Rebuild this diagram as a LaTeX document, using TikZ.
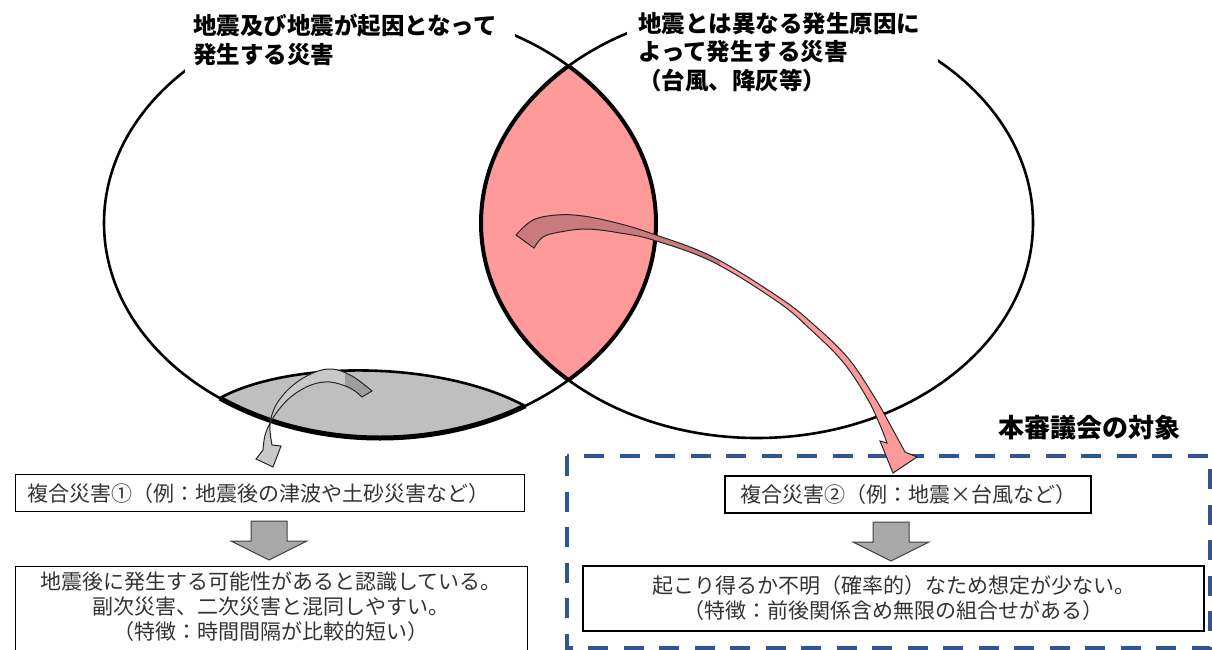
\documentclass[tikz,border=0pt]{standalone}
\usepackage{fontspec}
\setmainfont{Noto Sans CJK JP}
\usetikzlibrary{calc}
\definecolor{pinkc}{HTML}{FF9A9A}
\definecolor{pinkdark}{HTML}{C97A7A}
\definecolor{lensgray}{HTML}{BFBFBF}
\definecolor{arrgray}{HTML}{C9C9C9}
\definecolor{arrgraydark}{HTML}{9E9E9E}
\definecolor{blkgray}{HTML}{A9A9A9}
\definecolor{dashblue}{HTML}{2F5597}
\definecolor{txt}{HTML}{333333}
\begin{document}
\begin{tikzpicture}[x=1pt,y=-1pt,
  venn/.style={line width=2.6pt},
  titletext/.style={font=\fontsize{23.5}{28.5}\selectfont\bfseries, align=left, fill=white, anchor=north west, inner ysep=9pt},
  boxnode/.style={draw=black, line width=1.3pt, fill=white, font=\fontsize{21}{25}\selectfont, text=txt},
  boxtext/.style={font=\fontsize{21}{25}\selectfont, text=txt, align=center},
  blk/.style={fill=blkgray, draw=black!75, line width=1pt},
  curvarrow/.style={draw=black!85, line width=1pt},
]
\useasboundingbox (0,0) rectangle (1212,650);
\def\ellL{(380,223) ellipse [x radius=276, y radius=215]}
\def\ellR{(757,223) ellipse [x radius=276, y radius=215]}
\def\grayTop{(220,398) .. controls (290,360) and (440,360) .. (525,406)}
% lenses
\begin{scope}\clip \ellL; \fill[pinkc] \ellR; \end{scope}
\begin{scope}\clip \ellL; \fill[lensgray] \grayTop -- (560,460) -- (190,460) -- cycle; \end{scope}
\draw[venn] \ellL;
\draw[venn] \ellR;
\begin{scope}\clip \ellL; \draw[line width=4pt] \ellR; \end{scope}
\begin{scope}\clip \ellR; \draw[line width=4pt] \ellL; \end{scope}
\begin{scope}\clip \grayTop -- (560,460) -- (190,460) -- cycle; \draw[line width=5pt] \ellL; \end{scope}
\draw[line width=2.6pt] \grayTop;
% dashed frame
\draw[dashblue, line width=4pt, dash pattern=on 20pt off 15.5pt] (567,456) -- (567,648) -- (1210,648) -- (1210,456) -- cycle;
\node[font=\fontsize{26}{30}\selectfont\bfseries] (obj) at (1089,428) {本審議会の対象};
% boxes
\node[boxnode, minimum width=509pt, minimum height=37pt, anchor=north west, text width=485pt, align=left, inner xsep=12pt] (b1) at (15,474) {複合災害①（例：地震後の津波や土砂災害など）};
\node[boxnode, minimum width=512pt, minimum height=110pt, anchor=north west] (b2) at (15,566) {};
\node[boxtext] (t2) at (271,607) {地震後に発生する可能性があると認識している。\\副次災害、二次災害と混同しやすい。\\（特徴：時間間隔が比較的短い）};
\node[boxnode, minimum width=366pt, minimum height=37pt] (b3) at (908,494.5) {複合災害②（例：地震×台風など）};
\node[boxnode, minimum width=621pt, minimum height=65pt, align=center] (b4) at (893.5,598.5) {起こり得るか不明（確率的）なため想定が少ない。\\（特徴：前後関係含め無限の組合せがある）};
% block arrows
\coordinate (a1) at (269,521);
\coordinate (a2) at (891,522);
\foreach \p in {a1,a2}{
  \filldraw[blk] (\p) ++(-18,0) -- ++(36,0) -- ++(0,20) -- ++(20,0) -- ++(-38,19) -- ++(-38,-19) -- ++(20,0) -- cycle;
}
% curved arrows
\def\graypath{(372,391) -- (362,397) -- plot[smooth, tension=0.6] coordinates {(362,397) (350,388) (330,382) (311,385) (292,396) (277,412) (266,432) (263,450)} -- (256,459) -- (273,467) -- (281,446) -- plot[smooth, tension=0.6] coordinates {(272,445) (270,425) (276,405) (292,386) (313,373) (332,369) (352,376) (372,391)} -- cycle}
\fill[arrgray] \graypath;
\begin{scope}\clip (345,350) rectangle (390,410); \fill[arrgraydark] \graypath; \end{scope}
\draw[curvarrow] \graypath;
\def\pinkpath{(516,235) -- (534,248) -- plot[smooth, tension=0.6] coordinates {(534,248) (543,237) (560,232) (587,229) (620,233) (653,240) (713,262) (778,302) (810,329) (843,362) (867,398) (880,425) (887,443)} -- (880,441) -- (893,473) -- (917,457) -- (905,452) -- plot[smooth, tension=0.6] coordinates {(905,452) (893,430) (875,398) (848,358) (813,324) (780,298) (713,257) (653,234) (617,223) (583,216) (557,215) (533,220) (516,235)} -- cycle}
\fill[pinkc] \pinkpath;
\begin{scope}\clip (500,200) rectangle (720,280); \fill[pinkdark] \pinkpath; \end{scope}
\draw[curvarrow] \pinkpath;
% titles
\node[titletext, text width=314pt, inner xsep=8pt] (tl) at (185,5) {地震及び地震が起因となって\\発生する災害};
\node[titletext, text width=289pt, inner xsep=11pt] (tr) at (627,3) {地震とは異なる発生原因に\\よって発生する災害\\（台風、降灰等）};
\end{tikzpicture}
\end{document}
